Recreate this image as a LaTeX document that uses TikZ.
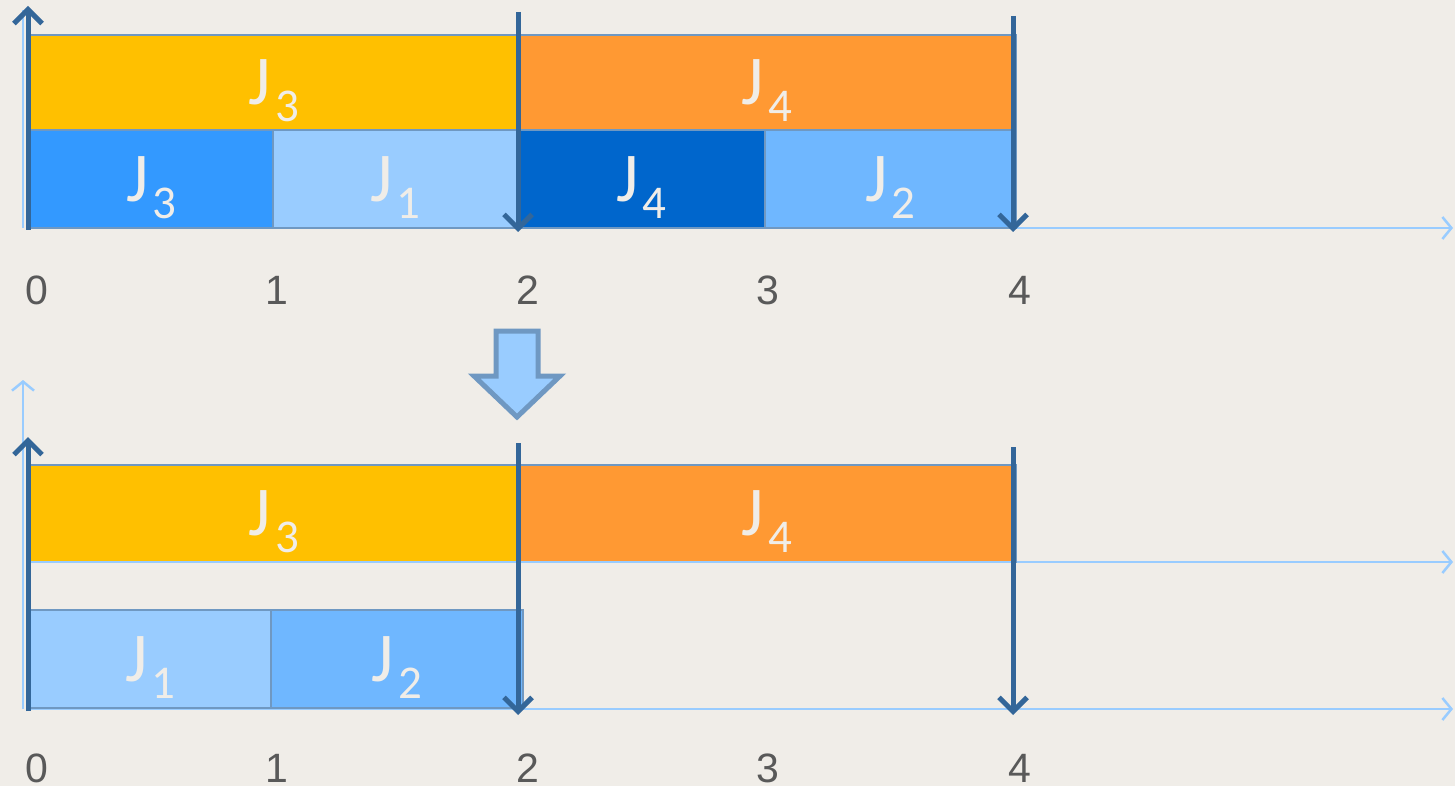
\documentclass[tikz,border=0pt]{standalone}
\usepackage{fontspec}
\setmainfont{Liberation Sans}
\newfontfamily\jfont{Carlito}
\usetikzlibrary{arrows.meta}
\definecolor{bg}{HTML}{F0EDE8}
\definecolor{edgec}{HTML}{6F98C2}
\definecolor{yel}{HTML}{FFC000}
\definecolor{ora}{HTML}{FF9933}
\definecolor{bmid}{HTML}{3399FF}
\definecolor{blight}{HTML}{99CCFF}
\definecolor{bdark}{HTML}{0066CC}
\definecolor{bsoft}{HTML}{6FB7FF}
\definecolor{axisc}{HTML}{99CCFF}
\definecolor{darrow}{HTML}{336699}
\definecolor{jtext}{HTML}{F0EDE8}
\definecolor{ticktext}{HTML}{595959}
\newcommand{\jlab}[1]{J\kern4pt\raisebox{-17pt}[0pt][0pt]{\fontsize{47}{47}\selectfont #1}}
\tikzset{
  job/.style={draw=edgec, line width=2pt, inner sep=0pt, outer sep=0pt, anchor=north west,
    text=jtext, font=\jfont\fontsize{70}{70}\selectfont},
  axisline/.style={draw=axisc, line width=2.5pt, -{Straight Barb[length=9pt,width=22pt]}},
  bigarr/.style={draw=darrow, line width=5pt, -{Straight Barb[length=14pt,width=28pt]}},
  tick/.style={text=ticktext, font=\fontsize{41}{41}\selectfont, inner sep=0pt}
}
\begin{document}
\begin{tikzpicture}[x=1pt,y=-1pt]
\fill[bg] (0,0) rectangle (1455,786);
\useasboundingbox (0,0) rectangle (1455,786);

% ---------- top section ----------
\coordinate (t0) at (30,228);
\coordinate (tend) at (1453,228);
\coordinate (tv0) at (23,228);
\coordinate (tvtop) at (23,10);
\draw[axisline] (t0) -- (tend);
\draw[draw=axisc, line width=2.5pt] (tv0) -- (tvtop);

\node[job, fill=yel, minimum width=488pt, minimum height=95pt] (tJ3a) at (30,35) {\jlab{3}};
\node[job, fill=ora, minimum width=498pt, minimum height=95pt] (tJ4a) at (518,35) {\jlab{4}};
\node[job, fill=bmid, minimum width=243pt, minimum height=98pt] (tJ3b) at (30,130) {\jlab{3}};
\node[job, fill=blight, minimum width=245pt, minimum height=98pt] (tJ1) at (273,130) {\jlab{1}};
\node[job, fill=bdark, minimum width=247pt, minimum height=98pt] (tJ4b) at (518,130) {\jlab{4}};
\node[job, fill=bsoft, minimum width=251pt, minimum height=98pt] (tJ2) at (765,130) {\jlab{2}};

\coordinate (tu0) at (28,230);
\coordinate (tu1) at (28,6);
\coordinate (td2a) at (518,12);
\coordinate (td2b) at (518,232);
\coordinate (td4a) at (1013,16);
\coordinate (td4b) at (1013,232);
\draw[bigarr] (tu0) -- (tu1);
\draw[bigarr] (td2a) -- (td2b);
\draw[bigarr] (td4a) -- (td4b);

\node[tick] (tl0) at (37,290) {0};
\node[tick] (tl1) at (277,290) {1};
\node[tick] (tl2) at (528,290) {2};
\node[tick] (tl3) at (768,290) {3};
\node[tick] (tl4) at (1020,290) {4};

% ---------- block arrow ----------
\filldraw[fill=blight, draw=edgec, line width=5pt, line join=miter]
  (496,331) -- (538,331) -- (538,376) -- (560,376) -- (517,417) -- (474,376) -- (496,376) -- cycle;

% ---------- bottom section ----------
\coordinate (b0) at (30,562);
\coordinate (bend) at (1453,562);
\coordinate (c0) at (30,709);
\coordinate (cend) at (1453,709);
\coordinate (bv0) at (23,709);
\coordinate (bvtop) at (23,380);
\draw[axisline] (b0) -- (bend);
\draw[axisline] (c0) -- (cend);
\draw[axisline] (bv0) -- (bvtop);

\node[job, fill=yel, minimum width=488pt, minimum height=97pt] (bJ3) at (30,465) {\jlab{3}};
\node[job, fill=ora, minimum width=498pt, minimum height=97pt] (bJ4) at (518,465) {\jlab{4}};
\draw[draw=axisc, line width=2.5pt] (b0) -- (bJ4.south east);
\node[job, fill=blight, minimum width=241pt, minimum height=98pt] (bJ1) at (30,610) {\jlab{1}};
\node[job, fill=bsoft, minimum width=252pt, minimum height=98pt] (bJ2) at (271,610) {\jlab{2}};

\coordinate (bu0) at (28,711);
\coordinate (bu1) at (28,437);
\coordinate (bd2a) at (518,443);
\coordinate (bd2b) at (518,715);
\coordinate (bd4a) at (1013,447);
\coordinate (bd4b) at (1013,715);
\draw[bigarr] (bu0) -- (bu1);
\draw[bigarr] (bd2a) -- (bd2b);
\draw[bigarr] (bd4a) -- (bd4b);

\node[tick] (bl0) at (37,768) {0};
\node[tick] (bl1) at (277,768) {1};
\node[tick] (bl2) at (528,768) {2};
\node[tick] (bl3) at (768,768) {3};
\node[tick] (bl4) at (1020,768) {4};
\end{tikzpicture}
\end{document}
